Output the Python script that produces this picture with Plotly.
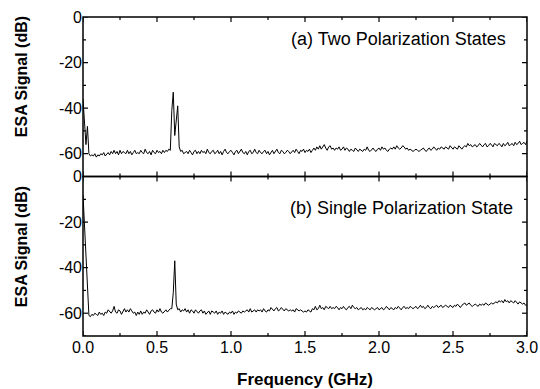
import numpy as np
import plotly.graph_objects as go

# ESA spectra sampled every 0.01 GHz from 0.00 to 3.00 GHz (values in dB)
signal_two_states = [
    -36, -48, -56, -48, -60, -61, -60.5, -61, -60, -61.5,
    -60.5, -61, -60, -60.5, -59.5, -61, -60, -59.5, -60.5, -59,
    -60, -58.5, -60, -59, -60.5, -58.5, -60, -59, -59.5, -60,
    -58.5, -60, -59, -60.5, -59.5, -58.5, -60, -59.5, -60, -58.5,
    -59.5, -60, -58, -59.5, -60, -59, -60.5, -58.5, -59.5, -60,
    -58.5, -59.5, -59, -60, -58.5, -59.5, -58.5, -59, -58, -58.5,
    -41, -33, -52, -44, -39, -57, -59, -58.5, -60, -59.5,
    -59, -60, -58.5, -59.5, -60.5, -59, -58.5, -60, -59, -60,
    -58.5, -59.5, -59, -60, -58, -59.5, -60, -59, -58.5, -60,
    -59.5, -58.5, -60, -59, -60.5, -59, -58, -59.5, -60, -59,
    -58.5, -59.5, -60.5, -59, -58.5, -60, -59, -58, -59.5, -60,
    -59, -60.5, -59, -58.5, -60, -59.5, -58, -59.5, -60, -58.5,
    -59.5, -60, -59, -58.5, -60, -59, -60.5, -59.5, -58.5, -60,
    -59, -58, -59.5, -60, -58.5, -59, -60, -59.5, -58.5, -59,
    -60, -59, -58.5, -59.5, -58, -59, -60, -58.5, -59, -58,
    -59.5, -58.5, -59, -58, -59.5, -58.5, -57.5, -58.5, -57, -58,
    -56.5, -58, -57, -56, -57.5, -58.5, -57, -56.5, -58, -57.5,
    -58.5, -57.5, -58, -57, -58.5, -58, -57, -58.5, -57.5, -58,
    -59, -58, -58.5, -59, -57.5, -58.5, -59, -58, -58.5, -59,
    -58, -58.5, -57, -58.5, -59, -58, -57.5, -58.5, -59, -58,
    -57.5, -58.5, -57, -58, -57.5, -58.5, -59, -58, -57.5, -58,
    -57, -58, -56.5, -57.5, -58, -57.5, -56.5, -57, -58, -57.5,
    -58.5, -58, -58.5, -59, -58.5, -58, -58.5, -59, -58.5, -58,
    -57.5, -58.5, -59, -58, -57.5, -58.5, -58, -57, -58, -58.5,
    -57.5, -58, -57, -57.5, -58, -57, -57.5, -58, -56.5, -57.5,
    -58, -57, -57.5, -58, -56.5, -57.5, -58, -57, -56.5, -57,
    -55.5, -56.5, -56, -57, -56.5, -56, -57, -56.5, -55.5, -56.5,
    -57, -56, -55.5, -57, -56.5, -55.5, -56, -57, -55.5, -56,
    -56.5, -55.5, -56, -57, -55.5, -56.5, -56, -55, -56.5, -56,
    -55.5, -56.5, -55, -56, -55.5, -54.5, -56, -55.5, -55, -56,
    -54.5,
]

signal_single_state = [
    -8, -22, -38, -52, -61, -61.5, -60.5, -61, -60, -60.5,
    -61, -59.5, -60.5, -60, -61, -59.5, -60, -58.5, -59.5, -60,
    -59, -57, -59.5, -60, -58.5, -59, -60.5, -59, -58, -59.5,
    -58.5, -59.5, -58, -59, -60, -59.5, -61, -59.5, -60.5, -59,
    -60.5, -59.5, -60, -58.5, -59.5, -60.5, -59, -58.5, -59.5, -60,
    -58.5, -59.5, -58, -59.5, -60, -59, -58.5, -59.5, -58.5, -58,
    -58, -51, -37, -56, -58.5, -58, -59.5, -58.5, -59, -58,
    -59.5, -58.5, -60, -58.5, -59, -60, -58.5, -59.5, -60, -59,
    -58.5, -60, -59, -60.5, -59.5, -59, -60.5, -59, -59.5, -60,
    -59, -60.5, -59.5, -60, -59, -60.5, -59.5, -60, -60.5, -59.5,
    -60, -59, -60.5, -59.5, -60, -59, -59.5, -60, -59, -59.5,
    -59, -58.5, -59.5, -58, -59.5, -59, -58.5, -59.5, -58.5, -59,
    -58.5, -59.5, -58, -59, -59.5, -58.5, -59, -57.5, -58.5, -59,
    -58, -57.5, -59, -58.5, -57.5, -58.5, -59, -58, -58.5, -59,
    -58.5, -59, -58.5, -59.5, -58, -58.5, -59, -58.5, -59, -59.5,
    -59, -59.5, -58.5, -59, -59.5, -58, -58.5, -57, -58.5, -58,
    -56.5, -58, -57.5, -58.5, -57, -57.5, -58, -57, -58, -57.5,
    -58, -57, -57.5, -58.5, -57.5, -58, -57, -58, -58.5, -57.5,
    -57, -58, -56.5, -57.5, -58, -57.5, -58.5, -58, -57.5, -58.5,
    -58, -58.5, -57.5, -58, -58.5, -57.5, -58, -58.5, -58, -57.5,
    -58.5, -58, -57.5, -58.5, -58, -57, -58, -58.5, -57.5, -58,
    -58.5, -57.5, -58, -57, -58, -58.5, -57.5, -57, -58, -57.5,
    -58, -57, -57.5, -58, -57.5, -57, -58, -57.5, -56.5, -57.5,
    -57, -58, -57.5, -56.5, -57.5, -58, -57, -57.5, -57, -56.5,
    -57.5, -57, -56.5, -57.5, -57, -56.5, -57, -57.5, -56.5, -57,
    -57.5, -56.5, -57, -56, -57, -57.5, -56.5, -56, -55.5, -56.5,
    -56, -55.5, -56.5, -57, -56.5, -56, -56.5, -57, -56, -56.5,
    -56, -56.5, -55.5, -56, -56.5, -56, -55.5, -56, -55.5, -55,
    -55.5, -54.5, -55, -54.5, -55.5, -54, -55, -54.5, -55.5, -54.5,
    -55, -55.5, -54.5, -55.5, -56, -55, -55.5, -56, -55.5, -56.5,
    -56.5,
]

freq_step_ghz = 0.01
freq_two = np.round(np.arange(len(signal_two_states)) * freq_step_ghz, 2)
freq_single = np.round(np.arange(len(signal_single_state)) * freq_step_ghz, 2)

y_tick_vals = [0, -20, -40, -60]
y_tick_labels = ["0", "-20", "-40", "-60"]
y_minor_vals = [-10, -30, -50, -70]
x_tick_vals = [0.0, 0.5, 1.0, 1.5, 2.0, 2.5, 3.0]
x_tick_labels = ["0.0", "0.5", "1.0", "1.5", "2.0", "2.5", "3.0"]
x_minor_vals = [0.25, 0.75, 1.25, 1.75, 2.25, 2.75]

label_a = "(a) Two Polarization States"
label_b = "(b) Single Polarization State"
y_title = "ESA Signal (dB)"
x_title = "Frequency (GHz)"

FONT = "Liberation Sans, Arial, sans-serif"
W, H = 540, 389
M = dict(l=83, r=13, t=17, b=53)
PLOT_W = W - M["l"] - M["r"]
PANEL_H = (H - M["t"] - M["b"]) / 2.0

fig = go.Figure()
fig.add_trace(go.Scatter(x=freq_two, y=signal_two_states, mode="lines",
                         line=dict(color="black", width=1), xaxis="x", yaxis="y",
                         hoverinfo="skip"))
fig.add_trace(go.Scatter(x=freq_single, y=signal_single_state, mode="lines",
                         line=dict(color="black", width=1), xaxis="x2", yaxis="y2",
                         hoverinfo="skip"))


def axis_style():
    return dict(showline=False, ticks="", showgrid=False, zeroline=False,
                automargin=False, tickfont=dict(family=FONT, size=16, color="black"))


# frame and inside ticks of each panel, drawn as shapes from the tick arrays
shapes = []
for xs, ys in (("x", "y"), ("x2", "y2")):
    shapes.append(dict(type="rect", xref=xs + " domain", yref=ys + " domain",
                       x0=0, x1=1, y0=0, y1=1, line=dict(color="black", width=1.5),
                       fillcolor="rgba(0,0,0,0)", layer="above"))
    for vals, length in ((x_tick_vals, 5), (x_minor_vals, 3)):
        frac = length / PANEL_H
        for v in vals:
            for base, sign in ((0, 1), (1, -1)):
                shapes.append(dict(type="line", xref=xs, yref=ys + " domain",
                                   x0=v, x1=v, y0=base, y1=base + sign * frac,
                                   line=dict(color="black", width=1.2), layer="above"))
    for vals, length in ((y_tick_vals, 5), (y_minor_vals, 3)):
        frac = length / PLOT_W
        for v in vals:
            for base, sign in ((0, 1), (1, -1)):
                shapes.append(dict(type="line", xref=xs + " domain", yref=ys,
                                   x0=base, x1=base + sign * frac, y0=v, y1=v,
                                   line=dict(color="black", width=1.2), layer="above"))

fig.update_layout(
    width=W, height=H, showlegend=False,
    margin=M,
    paper_bgcolor="white", plot_bgcolor="white",
    xaxis=dict(axis_style(), anchor="y", domain=[0, 1], range=[0, 3.0],
               tickmode="array", tickvals=x_tick_vals, ticktext=x_tick_labels,
               showticklabels=False),
    yaxis=dict(axis_style(), anchor="x", domain=[0.5, 1], range=[-70, 0],
               tickmode="array", tickvals=y_tick_vals, ticktext=y_tick_labels),
    xaxis2=dict(axis_style(), anchor="y2", domain=[0, 1], range=[0, 3.0],
                tickmode="array", tickvals=x_tick_vals, ticktext=x_tick_labels),
    yaxis2=dict(axis_style(), anchor="x2", domain=[0, 0.5], range=[-70, 0],
                tickmode="array", tickvals=y_tick_vals, ticktext=y_tick_labels),
    shapes=shapes,
    annotations=[
        dict(text=label_a, xref="paper", yref="paper", x=0.957, y=0.931,
             xanchor="right", yanchor="middle", showarrow=False,
             font=dict(family=FONT, size=18, color="black")),
        dict(text=label_b, xref="paper", yref="paper", x=0.973, y=0.401,
             xanchor="right", yanchor="middle", showarrow=False,
             font=dict(family=FONT, size=18, color="black")),
        dict(text="<b>" + y_title + "</b>", xref="paper", yref="paper", x=-0.137, y=0.812,
             xanchor="center", yanchor="middle", textangle=-90, showarrow=False,
             font=dict(family=FONT, size=16, color="black")),
        dict(text="<b>" + y_title + "</b>", xref="paper", yref="paper", x=-0.137, y=0.279,
             xanchor="center", yanchor="middle", textangle=-90, showarrow=False,
             font=dict(family=FONT, size=16, color="black")),
        dict(text="<b>" + x_title + "</b>", xref="paper", yref="paper", x=0.5, y=-0.135,
             xanchor="center", yanchor="middle", showarrow=False,
             font=dict(family=FONT, size=17, color="black")),
    ],
)

fig.write_html("out.html", config=dict(displayModeBar=False),
               post_script="document.body.style.margin='0';document.body.style.overflow='hidden';")
